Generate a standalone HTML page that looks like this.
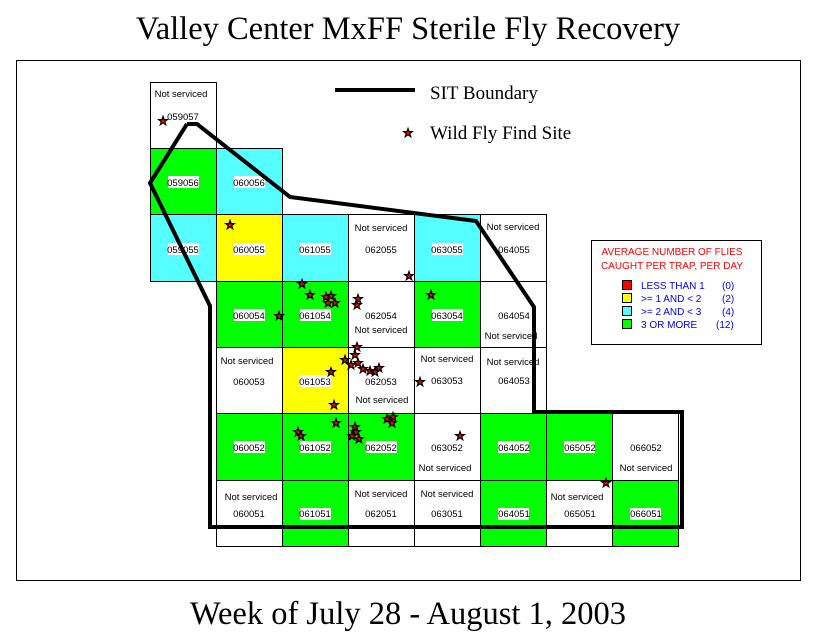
<!DOCTYPE html>
<html><head><meta charset="utf-8"><style>
html,body{margin:0;padding:0;background:#fff;}
svg{display:block}
.c{font-family:"Liberation Sans",Arial,sans-serif;font-size:9.5px;text-anchor:middle}
.t{font-family:"Liberation Serif","Times New Roman",serif}
</style></head><body>
<svg width="815" height="642" viewBox="0 0 815 642" xmlns="http://www.w3.org/2000/svg">
<defs>
<symbol id="s" viewBox="-5 -5 10 10" overflow="visible">
<polygon points="0,-4.5 1.1,-1.4 4.3,-1.4 1.7,0.6 2.7,3.7 0,1.8 -2.7,3.7 -1.7,0.6 -4.3,-1.4 -1.1,-1.4" fill="#f00" stroke="#000" stroke-width="1.2"/>
</symbol>
</defs>
<text x="408" y="39" class="t" font-size="32.5" text-anchor="middle">Valley Center MxFF Sterile Fly Recovery</text>
<text x="408" y="624" class="t" font-size="32.5" text-anchor="middle">Week of July 28 - August 1, 2003</text>
<rect x="16.5" y="60.5" width="784" height="520" fill="none" stroke="#000"/>
<g stroke="#000" stroke-width="1">
<rect x="150.5" y="82.5" width="66" height="66" fill="#fff"/>
<rect x="150.5" y="148.5" width="66" height="66" fill="#00ff00"/>
<rect x="216.5" y="148.5" width="66" height="66" fill="#55ffff"/>
<rect x="150.5" y="214.5" width="66" height="67" fill="#55ffff"/>
<rect x="216.5" y="214.5" width="66" height="67" fill="#ffff00"/>
<rect x="282.5" y="214.5" width="66" height="67" fill="#55ffff"/>
<rect x="348.5" y="214.5" width="66" height="67" fill="#fff"/>
<rect x="414.5" y="214.5" width="66" height="67" fill="#55ffff"/>
<rect x="480.5" y="214.5" width="66" height="67" fill="#fff"/>
<rect x="216.5" y="281.5" width="66" height="66" fill="#00ff00"/>
<rect x="282.5" y="281.5" width="66" height="66" fill="#00ff00"/>
<rect x="348.5" y="281.5" width="66" height="66" fill="#fff"/>
<rect x="414.5" y="281.5" width="66" height="66" fill="#00ff00"/>
<rect x="480.5" y="281.5" width="66" height="66" fill="#fff"/>
<rect x="216.5" y="347.5" width="66" height="66" fill="#fff"/>
<rect x="282.5" y="347.5" width="66" height="66" fill="#ffff00"/>
<rect x="348.5" y="347.5" width="66" height="66" fill="#fff"/>
<rect x="414.5" y="347.5" width="66" height="66" fill="#fff"/>
<rect x="480.5" y="347.5" width="66" height="66" fill="#fff"/>
<rect x="216.5" y="413.5" width="66" height="67" fill="#00ff00"/>
<rect x="282.5" y="413.5" width="66" height="67" fill="#00ff00"/>
<rect x="348.5" y="413.5" width="66" height="67" fill="#00ff00"/>
<rect x="414.5" y="413.5" width="66" height="67" fill="#fff"/>
<rect x="480.5" y="413.5" width="66" height="67" fill="#00ff00"/>
<rect x="546.5" y="413.5" width="66" height="67" fill="#00ff00"/>
<rect x="612.5" y="413.5" width="66" height="67" fill="#fff"/>
<rect x="216.5" y="480.5" width="66" height="66" fill="#fff"/>
<rect x="282.5" y="480.5" width="66" height="66" fill="#00ff00"/>
<rect x="348.5" y="480.5" width="66" height="66" fill="#fff"/>
<rect x="414.5" y="480.5" width="66" height="66" fill="#fff"/>
<rect x="480.5" y="480.5" width="66" height="66" fill="#00ff00"/>
<rect x="546.5" y="480.5" width="66" height="66" fill="#fff"/>
<rect x="612.5" y="480.5" width="66" height="66" fill="#00ff00"/>
</g>
<g fill="#fff">
<rect x="168" y="176" width="31" height="12"/><rect x="234" y="176" width="31" height="12"/>
<rect x="168" y="243" width="31" height="12"/><rect x="234" y="243" width="31" height="12"/><rect x="300" y="243" width="31" height="12"/><rect x="432" y="243" width="31" height="12"/>
<rect x="234" y="309" width="31" height="12"/><rect x="300" y="309" width="31" height="12"/><rect x="432" y="309" width="31" height="12"/>
<rect x="300" y="375" width="31" height="12"/>
<rect x="234" y="441" width="31" height="12"/><rect x="300" y="441" width="31" height="12"/><rect x="366" y="441" width="31" height="12"/><rect x="498" y="441" width="31" height="12"/><rect x="564" y="441" width="31" height="12"/>
<rect x="300" y="508" width="31" height="12"/><rect x="498" y="508" width="31" height="12"/><rect x="630" y="508" width="31" height="12"/>
</g>
<g class="c" fill="#000">
<text x="181" y="97">Not serviced</text><text x="183" y="120">059057</text>
<text x="183" y="186">059056</text><text x="249" y="186">060056</text>
<text x="183" y="253">059055</text><text x="249" y="253">060055</text><text x="315" y="253">061055</text>
<text x="381" y="231">Not serviced</text><text x="381" y="253">062055</text>
<text x="447" y="253">063055</text>
<text x="513" y="230">Not serviced</text><text x="514" y="253">064055</text>
<text x="249" y="319">060054</text><text x="315" y="319">061054</text>
<text x="381" y="319">062054</text><text x="381" y="333">Not serviced</text>
<text x="447" y="319">063054</text>
<text x="514" y="319">064054</text><text x="511" y="339">Not serviced</text>
<text x="247" y="364">Not serviced</text><text x="249" y="385">060053</text>
<text x="315" y="385">061053</text>
<text x="381" y="385">062053</text><text x="382" y="403">Not serviced</text>
<text x="447" y="362">Not serviced</text><text x="447" y="384">063053</text>
<text x="513" y="365">Not serviced</text><text x="514" y="384">064053</text>
<text x="249" y="451">060052</text><text x="315" y="451">061052</text><text x="381" y="451">062052</text>
<text x="447" y="451">063052</text><text x="445" y="471">Not serviced</text>
<text x="514" y="451">064052</text><text x="580" y="451">065052</text>
<text x="646" y="451">066052</text><text x="646" y="471">Not serviced</text>
<text x="251" y="500">Not serviced</text><text x="249" y="517">060051</text>
<text x="315" y="517">061051</text>
<text x="381" y="497">Not serviced</text><text x="381" y="517">062051</text>
<text x="447" y="497">Not serviced</text><text x="447" y="517">063051</text>
<text x="514" y="517">064051</text>
<text x="577" y="500">Not serviced</text><text x="580" y="517">065051</text>
<text x="646" y="517">066051</text>
</g>
<polyline points="187,124 197,124 290,197 476,221 534,307 534,412 682,412 682,527 210,527 210,306 150,183 187,124" fill="none" stroke="#000" stroke-width="4" stroke-linejoin="miter"/>
<line x1="335" y1="90" x2="415" y2="90" stroke="#000" stroke-width="4"/>
<text x="430" y="99" class="t" font-size="19">SIT Boundary</text>
<use href="#s" x="403" y="128" width="10" height="10"/>
<text x="430" y="139" class="t" font-size="19">Wild Fly Find Site</text>
<rect x="591.5" y="240.5" width="170" height="104" fill="#fff" stroke="#000"/>
<g font-family="Liberation Sans,Arial,sans-serif" font-size="10">
<text x="672" y="255" fill="#ff0000" text-anchor="middle">AVERAGE NUMBER OF FLIES</text>
<text x="672" y="269" fill="#ff0000" text-anchor="middle">CAUGHT PER TRAP, PER DAY</text>
<g stroke="#000"><rect x="622.5" y="280.5" width="9" height="9" fill="#f00"/><rect x="622.5" y="293.5" width="9" height="9" fill="#ff0"/><rect x="622.5" y="306.5" width="9" height="9" fill="#5ff"/><rect x="622.5" y="319.5" width="9" height="9" fill="#0f0"/></g>
<g fill="#0000ff">
<text x="641" y="289">LESS THAN 1</text><text x="722" y="289">(0)</text>
<text x="641" y="302">&gt;= 1 AND &lt; 2</text><text x="722" y="302">(2)</text>
<text x="641" y="315">&gt;= 2 AND &lt; 3</text><text x="722" y="315">(4)</text>
<text x="641" y="328">3 OR MORE</text><text x="716" y="328">(12)</text>
</g></g>
<g>
<use href="#s" x="158" y="116" width="10" height="10"/>
<use href="#s" x="225" y="220" width="10" height="10"/>
<use href="#s" x="297" y="279" width="10" height="10"/>
<use href="#s" x="305" y="290" width="10" height="10"/>
<use href="#s" x="321" y="292" width="10" height="10"/>
<use href="#s" x="326" y="291" width="10" height="10"/>
<use href="#s" x="330" y="298" width="10" height="10"/>
<use href="#s" x="323" y="298" width="10" height="10"/>
<use href="#s" x="353" y="294" width="10" height="10"/>
<use href="#s" x="352" y="300" width="10" height="10"/>
<use href="#s" x="274" y="311" width="10" height="10"/>
<use href="#s" x="404" y="271" width="10" height="10"/>
<use href="#s" x="426" y="290" width="10" height="10"/>
<use href="#s" x="352" y="342" width="10" height="10"/>
<use href="#s" x="350" y="350" width="10" height="10"/>
<use href="#s" x="340" y="355" width="10" height="10"/>
<use href="#s" x="346" y="360" width="10" height="10"/>
<use href="#s" x="353" y="358" width="10" height="10"/>
<use href="#s" x="358" y="364" width="10" height="10"/>
<use href="#s" x="365" y="366" width="10" height="10"/>
<use href="#s" x="374" y="363" width="10" height="10"/>
<use href="#s" x="370" y="367" width="10" height="10"/>
<use href="#s" x="326" y="367" width="10" height="10"/>
<use href="#s" x="415" y="377" width="10" height="10"/>
<use href="#s" x="329" y="400" width="10" height="10"/>
<use href="#s" x="331" y="418" width="10" height="10"/>
<use href="#s" x="293" y="427" width="10" height="10"/>
<use href="#s" x="296" y="431" width="10" height="10"/>
<use href="#s" x="350" y="422" width="10" height="10"/>
<use href="#s" x="351" y="427" width="10" height="10"/>
<use href="#s" x="347" y="431" width="10" height="10"/>
<use href="#s" x="354" y="434" width="10" height="10"/>
<use href="#s" x="382" y="414" width="10" height="10"/>
<use href="#s" x="388" y="412" width="10" height="10"/>
<use href="#s" x="387" y="418" width="10" height="10"/>
<use href="#s" x="455" y="431" width="10" height="10"/>
<use href="#s" x="601" y="478" width="10" height="10"/>
</g>
</svg>
</body></html>
